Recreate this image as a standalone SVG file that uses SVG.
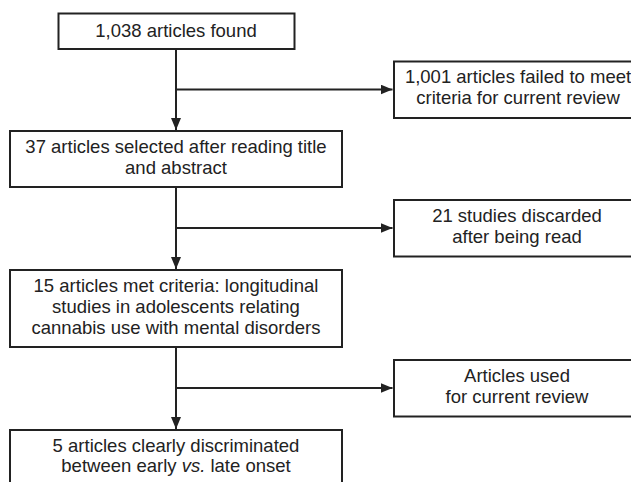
<svg xmlns="http://www.w3.org/2000/svg" width="631" height="482" viewBox="0 0 631 482">
<style>
.box{fill:#fff;stroke:#222;stroke-width:2}
.t{font-family:"Liberation Sans",Arial,sans-serif;font-size:18.5px;fill:#222;text-anchor:middle}
.ln{fill:none;stroke:#222;stroke-width:2}
</style>
<defs>
<marker id="ah" markerUnits="userSpaceOnUse" markerWidth="13" markerHeight="11" refX="12" refY="5" orient="auto">
<path d="M0,0 L12,5 L0,10 z" fill="#222"/>
</marker>
</defs>
<g id="connectors">
<line class="ln" x1="176" y1="49" x2="176" y2="130" marker-end="url(#ah)"/>
<line class="ln" x1="176" y1="89.5" x2="392.5" y2="89.5" marker-end="url(#ah)"/>
<line class="ln" x1="176" y1="187" x2="176" y2="269" marker-end="url(#ah)"/>
<line class="ln" x1="176" y1="228" x2="392.5" y2="228" marker-end="url(#ah)"/>
<line class="ln" x1="176" y1="347" x2="176" y2="429" marker-end="url(#ah)"/>
<line class="ln" x1="176" y1="388" x2="392.5" y2="388" marker-end="url(#ah)"/>
</g>
<g id="n1">
<rect class="box" x="58.5" y="13.5" width="236" height="35.5"/>
<text class="t" x="176" y="36.5">1,038 articles found</text>
</g>
<g id="n2">
<rect class="box" x="394" y="61.5" width="248" height="56.5"/>
<text class="t" x="518" y="83.3">1,001 articles failed to meet</text>
<text class="t" x="518" y="103.5">criteria for current review</text>
</g>
<g id="n3">
<rect class="box" x="10" y="131" width="332" height="56"/>
<text class="t" x="176" y="153">37 articles selected after reading title</text>
<text class="t" x="176" y="173.5">and abstract</text>
</g>
<g id="n4">
<rect class="box" x="394" y="200" width="248" height="56.5"/>
<text class="t" x="517" y="221.7">21 studies discarded</text>
<text class="t" x="517" y="243.3">after being read</text>
</g>
<g id="n5">
<rect class="box" x="10" y="270" width="332" height="77"/>
<text class="t" x="176" y="291.7">15 articles met criteria: longitudinal</text>
<text class="t" x="176" y="312.7">studies in adolescents relating</text>
<text class="t" x="176" y="333.5">cannabis use with mental disorders</text>
</g>
<g id="n6">
<rect class="box" x="394" y="360" width="248" height="56.5"/>
<text class="t" x="517" y="381.7">Articles used</text>
<text class="t" x="517" y="403.3">for current review</text>
</g>
<g id="n7">
<rect class="box" x="10" y="430" width="332" height="62"/>
<text class="t" x="176" y="451.7">5 articles clearly discriminated</text>
<text class="t" x="176" y="472">between early <tspan font-style="italic">vs.</tspan> late onset</text>
</g>
</svg>
